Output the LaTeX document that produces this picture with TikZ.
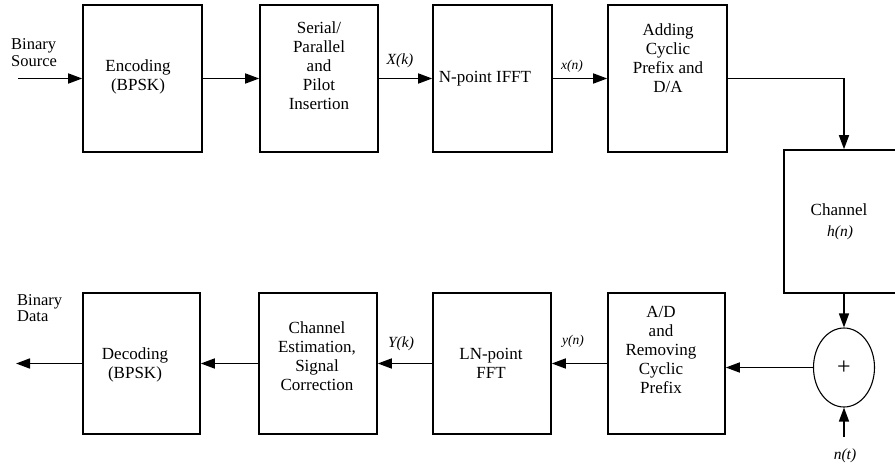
\documentclass[tikz,border=0pt]{standalone}
\usepackage{fontspec}
\setmainfont{Liberation Serif}
\usetikzlibrary{arrows.meta,shapes.geometric}
\begin{document}
\begin{tikzpicture}[x=1pt,y=-1pt,
  blk/.style={draw,line width=1.6pt,inner sep=0pt,minimum width=119pt,minimum height=147pt},
  txt/.style={align=center,font=\fontsize{17}{19}\selectfont,inner sep=0pt},
  lab/.style={font=\fontsize{15.5}{17}\selectfont\itshape,inner sep=0pt},
  slab/.style={font=\fontsize{13.5}{15}\selectfont\itshape,inner sep=0pt},
  arr/.style={line width=1.6pt,-{Triangle[length=14pt,width=10pt]}}]
\useasboundingbox (0,0) rectangle (895,471);
% top row
\node[blk] (enc) at (142.5,78.5) {};
\node[blk,minimum width=118pt] (ser) at (319,78.5) {};
\node[blk] (ifft) at (492.5,78.5) {};
\node[blk] (add) at (667.5,78.5) {};
\node[txt] (enct) at (138,77) {Encoding\\(BPSK)};
\node[txt] (sert) at (319,66) {Serial/\\Parallel\\and\\Pilot\\Insertion};
\node[txt] (ifftt) at (485,79) {N-point IFFT};
\node[txt] (addt) at (668,58) {Adding\\Cyclic\\Prefix and\\D/A};
% channel
\node[blk,minimum width=120pt,minimum height=143pt] (chan) at (844,221.5) {};
\node[txt] (chant) at (839,210) {Channel};
\node[lab] (hn) at (840,233) {h(n)};
\node[draw,ellipse,line width=1.1pt,minimum width=61pt,minimum height=79pt,inner sep=0pt] (sum) at (844,367.5) {};
\node[font=\fontsize{24}{26}\selectfont,inner sep=0pt] (plus) at (844,368) {+};
\coordinate (nsrc) at (844,437);
\node[lab] (nt) at (845,456) {n(t)};
% bottom row
\node[blk,minimum width=117pt,minimum height=141pt] (dec) at (141.5,363.5) {};
\node[blk,minimum width=118pt,minimum height=141pt] (cest) at (318,363.5) {};
\node[blk,minimum width=118pt,minimum height=141pt] (fft) at (492,363.5) {};
\node[blk,minimum width=117pt,minimum height=141pt] (adc) at (666.5,363.5) {};
\node[txt] (dect) at (135,365) {Decoding\\(BPSK)};
\node[txt] (cestt) at (317,356) {Channel\\Estimation,\\Signal\\Correction};
\node[txt] (fftt) at (491,363) {LN-point\\FFT};
\node[txt] (adct) at (661,350) {A/D\\and\\Removing\\Cyclic\\Prefix};
% inputs / outputs
\coordinate (in) at (18,78.5);
\coordinate (out) at (16,363.5);
\node[txt,align=left,anchor=west,font=\fontsize{16.5}{17}\selectfont] (bs) at (11,53) {Binary\\Source};
\node[txt,align=left,anchor=west,font=\fontsize{16.5}{16}\selectfont] (bd) at (17,308) {Binary\\Data};
% connectors
\draw[arr] (in) -- (enc.west);
\draw[arr] (enc.east) -- (ser.west);
\draw[arr] (ser.east) -- (ifft.west);
\draw[arr] (ifft.east) -- (add.west);
\draw[arr] (add.east) -| (chan.north);
\draw[arr] (chan.south) -- (sum.north);
\draw[arr] (nsrc) -- (sum.south);
\draw[arr] (sum.west) -- (adc.east |- sum.west);
\draw[arr] (adc.west) -- (fft.east);
\draw[arr] (fft.west) -- (cest.east);
\draw[arr] (cest.west) -- (dec.east);
\draw[arr] (dec.west) -- (out);
% signal labels
\node[lab] (xk) at (400,61) {X(k)};
\node[slab] (xn) at (572,66) {x(n)};
\node[lab] (yk) at (401,344) {Y(k)};
\node[slab] (yn) at (573,341) {y(n)};
\end{tikzpicture}
\end{document}
